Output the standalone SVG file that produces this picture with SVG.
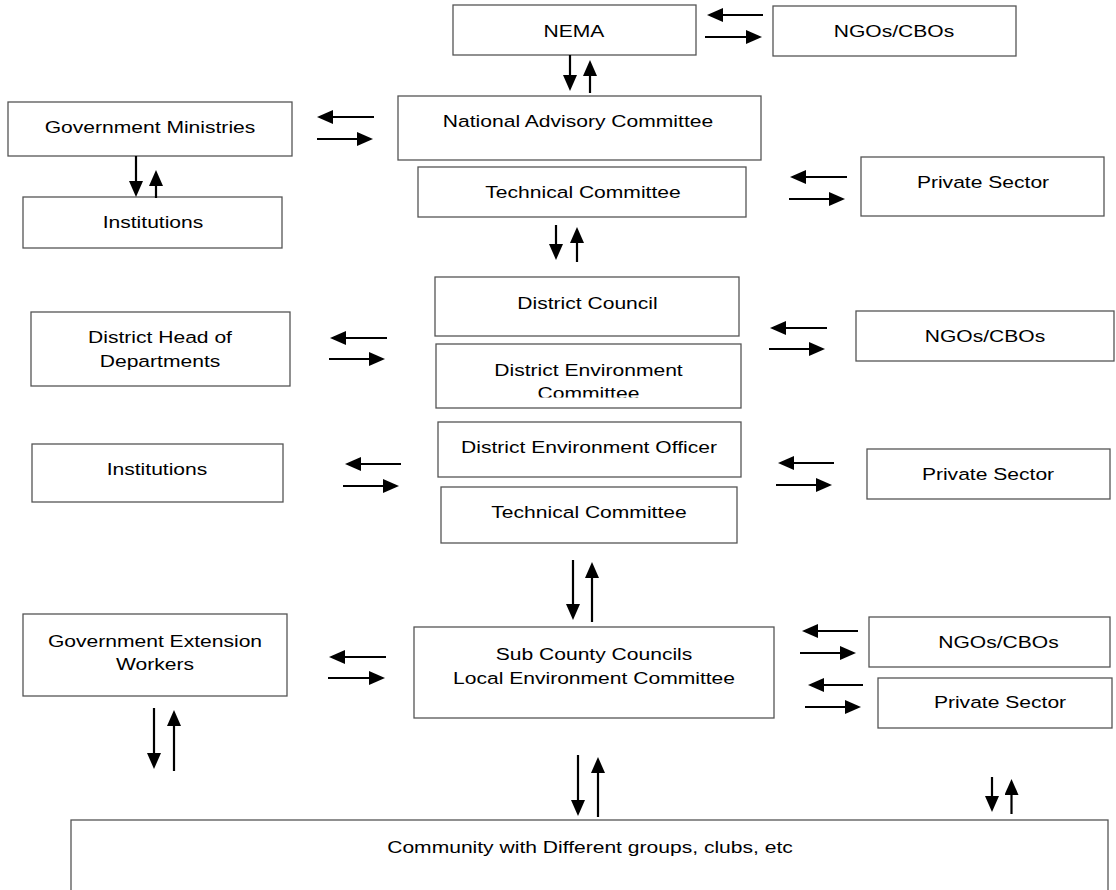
<svg xmlns="http://www.w3.org/2000/svg" width="1116" height="890" viewBox="0 0 1116 890">
<style>
rect.box{fill:#fff;stroke:#555;stroke-width:1.3}
text{font-family:"Liberation Sans",Arial,sans-serif;font-size:17px;fill:#000;text-anchor:middle}
line.c{stroke:#000;stroke-width:2.2;marker-end:url(#ah)}
</style>
<defs>
<marker id="ah" markerUnits="userSpaceOnUse" markerWidth="16" markerHeight="14" refX="8" refY="7" orient="auto" viewBox="0 0 16 14">
<path d="M0,0 L16,7 L0,14 Z" fill="#000"/>
</marker>
<clipPath id="decclip"><rect x="436" y="344" width="305" height="53.5"/></clipPath>
</defs>
<rect width="1116" height="890" fill="#fff"/>

<g id="nema"><rect class="box" x="453" y="5" width="243" height="50"/><text transform="translate(574 37) scale(1.24 1)">NEMA</text></g>
<g id="ngos-top"><rect class="box" x="773" y="6" width="243" height="50"/><text transform="translate(894 37) scale(1.24 1)">NGOs/CBOs</text></g>
<g id="nac"><rect class="box" x="398" y="96" width="363" height="64"/><text transform="translate(578 127) scale(1.24 1)">National Advisory Committee</text></g>
<g id="tc-top"><rect class="box" x="418" y="167" width="328" height="50"/><text transform="translate(583 198) scale(1.24 1)">Technical Committee</text></g>
<g id="gov-min"><rect class="box" x="8" y="102" width="284" height="54"/><text transform="translate(150 133) scale(1.24 1)">Government Ministries</text></g>
<g id="inst-top"><rect class="box" x="23" y="197" width="259" height="51"/><text transform="translate(153 228) scale(1.24 1)">Institutions</text></g>
<g id="private-top"><rect class="box" x="861" y="157" width="243" height="59"/><text transform="translate(983 188) scale(1.24 1)">Private Sector</text></g>
<g id="district-council"><rect class="box" x="435" y="277" width="304" height="59"/><text transform="translate(587.5 309) scale(1.24 1)">District Council</text></g>
<g id="dhod"><rect class="box" x="31" y="312" width="259" height="74"/><text transform="translate(160 343) scale(1.24 1)">District Head of</text><text transform="translate(160 367) scale(1.24 1)">Departments</text></g>
<g id="ngos-mid"><rect class="box" x="856" y="311" width="258" height="50"/><text transform="translate(985 342) scale(1.24 1)">NGOs/CBOs</text></g>
<g id="dec"><rect class="box" x="436" y="344" width="305" height="64"/><text transform="translate(588.5 376) scale(1.24 1)">District Environment</text><g clip-path="url(#decclip)"><text transform="translate(588.5 399) scale(1.24 1)">Committee</text></g></g>
<g id="deo"><rect class="box" x="438" y="422" width="303" height="55"/><text transform="translate(589 453) scale(1.24 1)">District Environment Officer</text></g>
<g id="tc-mid"><rect class="box" x="441" y="487" width="296" height="56"/><text transform="translate(589 518) scale(1.24 1)">Technical Committee</text></g>
<g id="inst-mid"><rect class="box" x="32" y="444" width="251" height="58"/><text transform="translate(157 475) scale(1.24 1)">Institutions</text></g>
<g id="private-mid"><rect class="box" x="867" y="449" width="243" height="50"/><text transform="translate(988 480) scale(1.24 1)">Private Sector</text></g>
<g id="gew"><rect class="box" x="23" y="614" width="264" height="82"/><text transform="translate(155 647) scale(1.24 1)">Government Extension</text><text transform="translate(155 670) scale(1.24 1)">Workers</text></g>
<g id="sub-county"><rect class="box" x="414" y="627" width="360" height="91"/><text transform="translate(594 660) scale(1.24 1)">Sub County Councils</text><text transform="translate(594 684) scale(1.24 1)">Local Environment Committee</text></g>
<g id="ngos-bottom"><rect class="box" x="869" y="617" width="241" height="50"/><text transform="translate(998.5 648) scale(1.24 1)">NGOs/CBOs</text></g>
<g id="private-bottom"><rect class="box" x="878" y="678" width="234" height="50"/><text transform="translate(1000 708) scale(1.24 1)">Private Sector</text></g>
<g id="community"><rect class="box" x="71" y="820" width="1037" height="90"/><text transform="translate(590 853) scale(1.24 1)">Community with Different groups, clubs, etc</text></g>

<g id="connectors">
<line class="c" x1="763" y1="15" x2="715" y2="15"/>
<line class="c" x1="705" y1="37" x2="754" y2="37"/>
<line class="c" x1="374" y1="117" x2="325" y2="117"/>
<line class="c" x1="317" y1="139" x2="365" y2="139"/>
<line class="c" x1="847" y1="177" x2="798" y2="177"/>
<line class="c" x1="789" y1="199" x2="837" y2="199"/>
<line class="c" x1="387" y1="338" x2="338" y2="338"/>
<line class="c" x1="329" y1="359" x2="377" y2="359"/>
<line class="c" x1="827" y1="328" x2="778" y2="328"/>
<line class="c" x1="769" y1="349" x2="817" y2="349"/>
<line class="c" x1="401" y1="464" x2="353" y2="464"/>
<line class="c" x1="343" y1="486" x2="391" y2="486"/>
<line class="c" x1="834" y1="463" x2="786" y2="463"/>
<line class="c" x1="776" y1="485" x2="824" y2="485"/>
<line class="c" x1="386" y1="657" x2="337" y2="657"/>
<line class="c" x1="328" y1="678" x2="377" y2="678"/>
<line class="c" x1="858" y1="631" x2="810" y2="631"/>
<line class="c" x1="800" y1="653" x2="848" y2="653"/>
<line class="c" x1="863" y1="685" x2="816" y2="685"/>
<line class="c" x1="805" y1="707" x2="853" y2="707"/>
<line class="c" x1="570" y1="55" x2="570" y2="83"/>
<line class="c" x1="590" y1="93" x2="590" y2="68"/>
<line class="c" x1="136" y1="156" x2="136" y2="189"/>
<line class="c" x1="156" y1="198" x2="156" y2="178"/>
<line class="c" x1="556" y1="225" x2="556" y2="252"/>
<line class="c" x1="577" y1="262" x2="577" y2="235"/>
<line class="c" x1="573" y1="560" x2="573" y2="612"/>
<line class="c" x1="592" y1="622" x2="592" y2="570"/>
<line class="c" x1="154" y1="708" x2="154" y2="761"/>
<line class="c" x1="174" y1="771" x2="174" y2="718"/>
<line class="c" x1="578" y1="755" x2="578" y2="808"/>
<line class="c" x1="598" y1="817" x2="598" y2="765"/>
<line class="c" x1="992" y1="777" x2="992" y2="804"/>
<line class="c" x1="1011.5" y1="814" x2="1011.5" y2="787"/>
</g>
</svg>
